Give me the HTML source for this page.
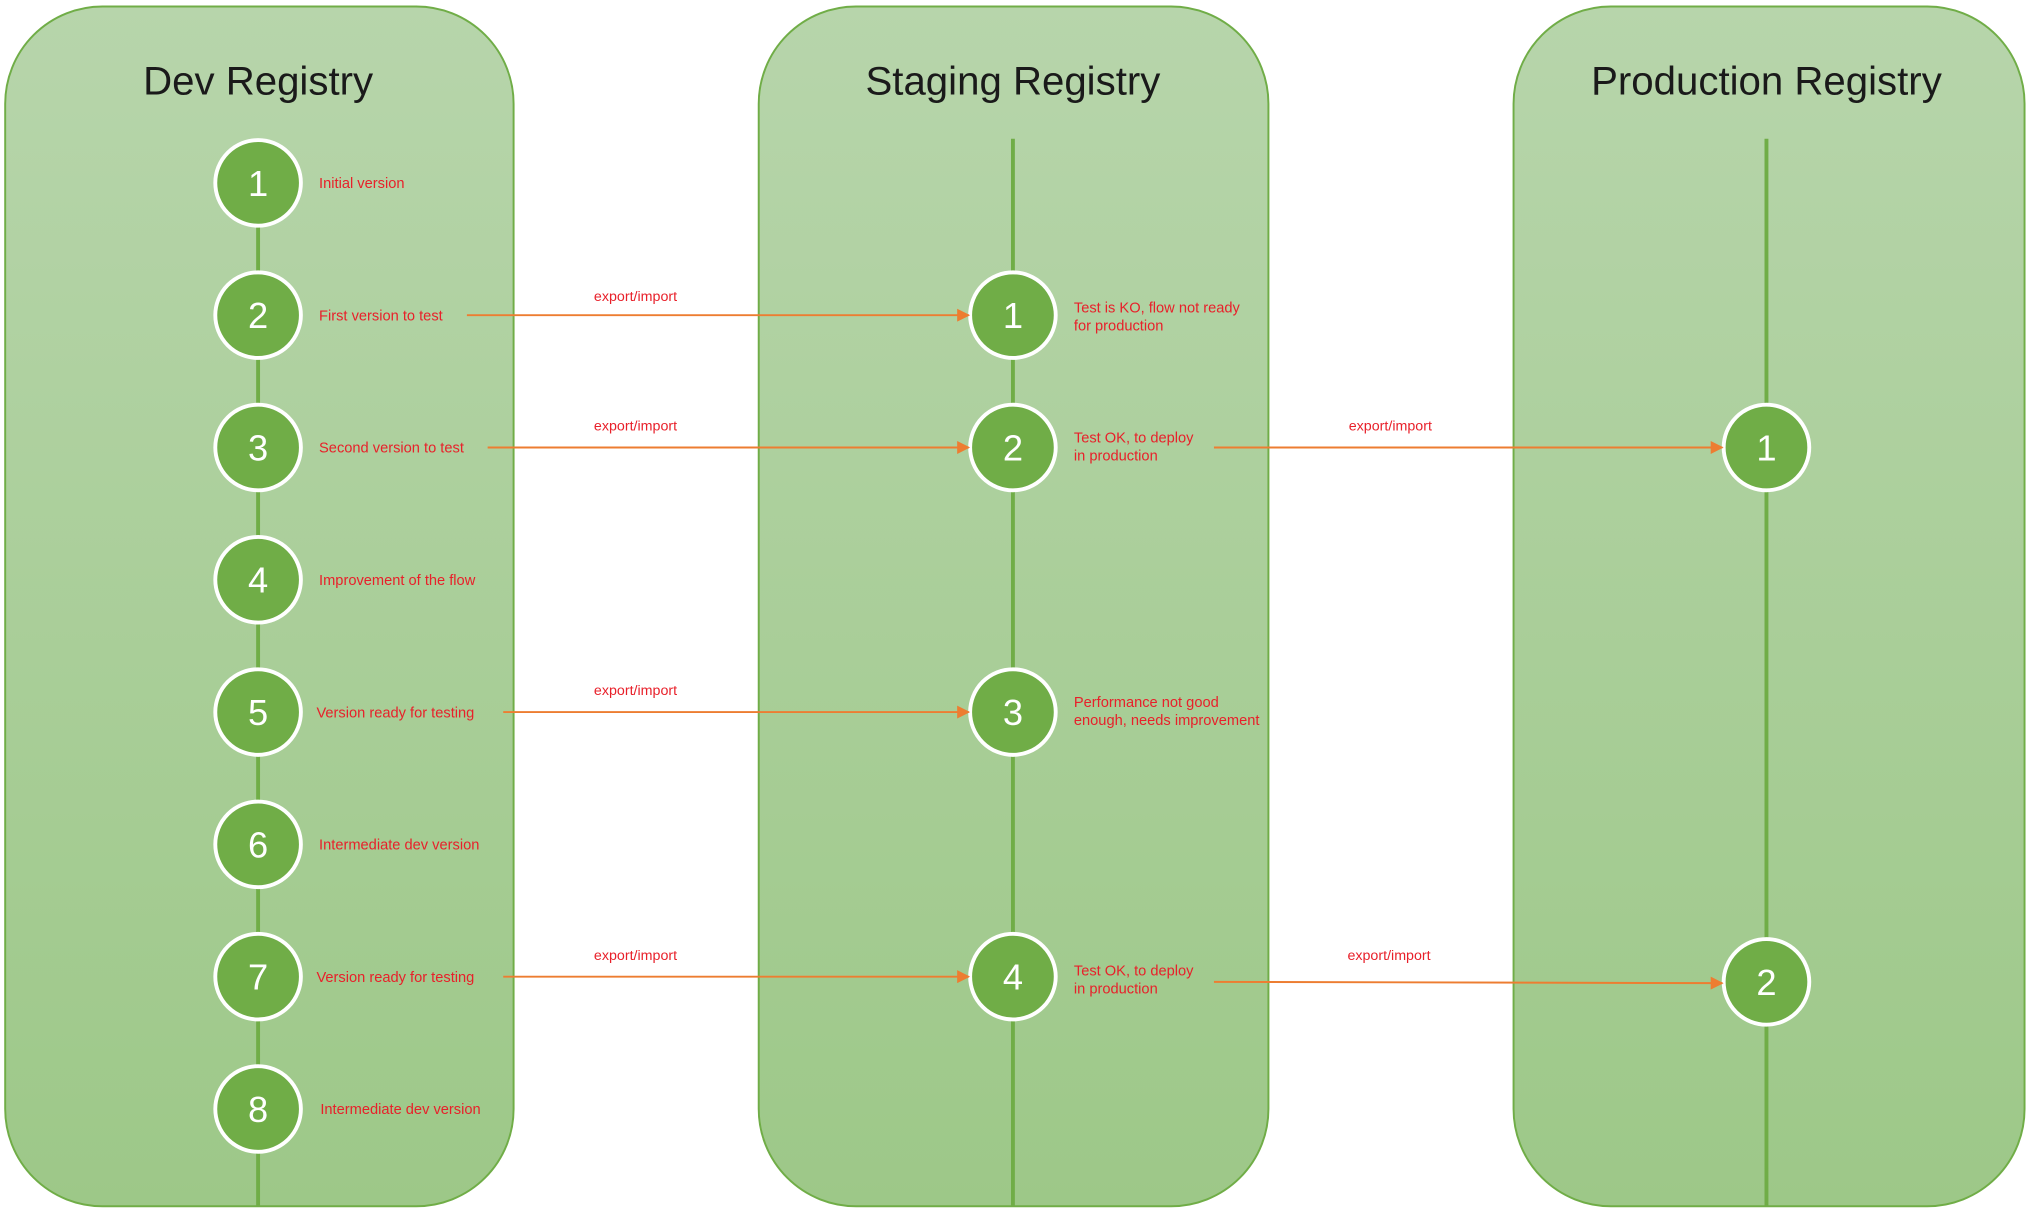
<!DOCTYPE html>
<html><head><meta charset="utf-8"><style>
html,body{margin:0;padding:0;background:#fff;width:2030px;height:1210px;overflow:hidden}
svg{display:block}
.t{font-family:"Liberation Sans",sans-serif;font-size:31px;fill:#1a1a1a;text-anchor:middle}
.n{font-family:"Liberation Sans",sans-serif;font-size:28px;fill:#fff;text-anchor:middle}
.l{font-family:"Liberation Sans",sans-serif;font-size:11.3px;fill:#e8202a}
.e{font-family:"Liberation Sans",sans-serif;font-size:11px;fill:#e8202a;text-anchor:middle}
</style></head><body>
<svg width="2030" height="1210" viewBox="0 0 1565.2 932.9" preserveAspectRatio="none">
<defs>
<linearGradient id="g" x1="0" y1="0" x2="0" y2="1"><stop offset="0" stop-color="#b7d5ab"/><stop offset="1" stop-color="#9dc888"/></linearGradient>
<marker id="a" markerWidth="10" markerHeight="10" refX="9" refY="5" orient="auto" markerUnits="userSpaceOnUse"><path d="M0,0 L10,5 L0,10z" fill="#ed7d31"/></marker>
</defs>
<rect x="4" y="5" width="392" height="925" rx="75" fill="url(#g)" stroke="#70ad47" stroke-width="1.5"/>
<rect x="585" y="5" width="393" height="925" rx="75" fill="url(#g)" stroke="#70ad47" stroke-width="1.5"/>
<rect x="1167" y="5" width="394" height="925" rx="75" fill="url(#g)" stroke="#70ad47" stroke-width="1.5"/>
<text class="t" x="199" y="73">Dev Registry</text>
<text class="t" x="781" y="73">Staging Registry</text>
<text class="t" x="1362" y="73">Production Registry</text>
<g stroke="#70ad47" stroke-width="3">
<line x1="199" y1="141" x2="199" y2="930"/>
<line x1="781" y1="107" x2="781" y2="930"/>
<line x1="1362" y1="107" x2="1362" y2="930"/>
</g>
<g fill="#70ad47" stroke="#fff" stroke-width="3">
<circle cx="199" cy="141" r="33"/><circle cx="199" cy="243" r="33"/><circle cx="199" cy="345" r="33"/><circle cx="199" cy="447" r="33"/>
<circle cx="199" cy="549" r="33"/><circle cx="199" cy="651" r="33"/><circle cx="199" cy="753" r="33"/><circle cx="199" cy="855" r="33"/>
<circle cx="781" cy="243" r="33"/><circle cx="781" cy="345" r="33"/><circle cx="781" cy="549" r="33"/><circle cx="781" cy="753" r="33"/>
<circle cx="1362" cy="345" r="33"/><circle cx="1362" cy="757" r="33"/>
</g>
<g class="n">
<text class="n" x="199" y="151">1</text><text class="n" x="199" y="253">2</text><text class="n" x="199" y="355">3</text><text class="n" x="199" y="457">4</text>
<text class="n" x="199" y="559">5</text><text class="n" x="199" y="661">6</text><text class="n" x="199" y="763">7</text><text class="n" x="199" y="865">8</text>
<text class="n" x="781" y="253">1</text><text class="n" x="781" y="355">2</text><text class="n" x="781" y="559">3</text><text class="n" x="781" y="763">4</text>
<text class="n" x="1362" y="355">1</text><text class="n" x="1362" y="767">2</text>
</g>
<text class="l" x="246" y="145">Initial version</text>
<text class="l" x="246" y="247">First version to test</text>
<text class="l" x="246" y="349">Second version to test</text>
<text class="l" x="246" y="451">Improvement of the flow</text>
<text class="l" x="244" y="553">Version ready for testing</text>
<text class="l" x="246" y="655">Intermediate dev version</text>
<text class="l" x="244" y="757">Version ready for testing</text>
<text class="l" x="247" y="859">Intermediate dev version</text>
<text class="l" x="828" y="241">Test is KO, flow not ready</text>
<text class="l" x="828" y="255">for production</text>
<text class="l" x="828" y="341">Test OK, to deploy</text>
<text class="l" x="828" y="355">in production</text>
<text class="l" x="828" y="545">Performance not  good</text>
<text class="l" x="828" y="559">enough, needs improvement</text>
<text class="l" x="828" y="752">Test OK, to deploy</text>
<text class="l" x="828" y="766">in production</text>
<g stroke="#ed7d31" stroke-width="1.5" marker-end="url(#a)">
<line x1="360" y1="243" x2="747" y2="243"/>
<line x1="376" y1="345" x2="747" y2="345"/>
<line x1="388" y1="549" x2="747" y2="549"/>
<line x1="388" y1="753" x2="747" y2="753"/>
<line x1="936" y1="345" x2="1328" y2="345"/>
<line x1="936" y1="757" x2="1328" y2="758"/>
</g>
<text class="e" x="490" y="232">export/import</text>
<text class="e" x="490" y="332">export/import</text>
<text class="e" x="490" y="536">export/import</text>
<text class="e" x="490" y="740">export/import</text>
<text class="e" x="1072" y="332">export/import</text>
<text class="e" x="1071" y="740">export/import</text>
</svg>
</body></html>
